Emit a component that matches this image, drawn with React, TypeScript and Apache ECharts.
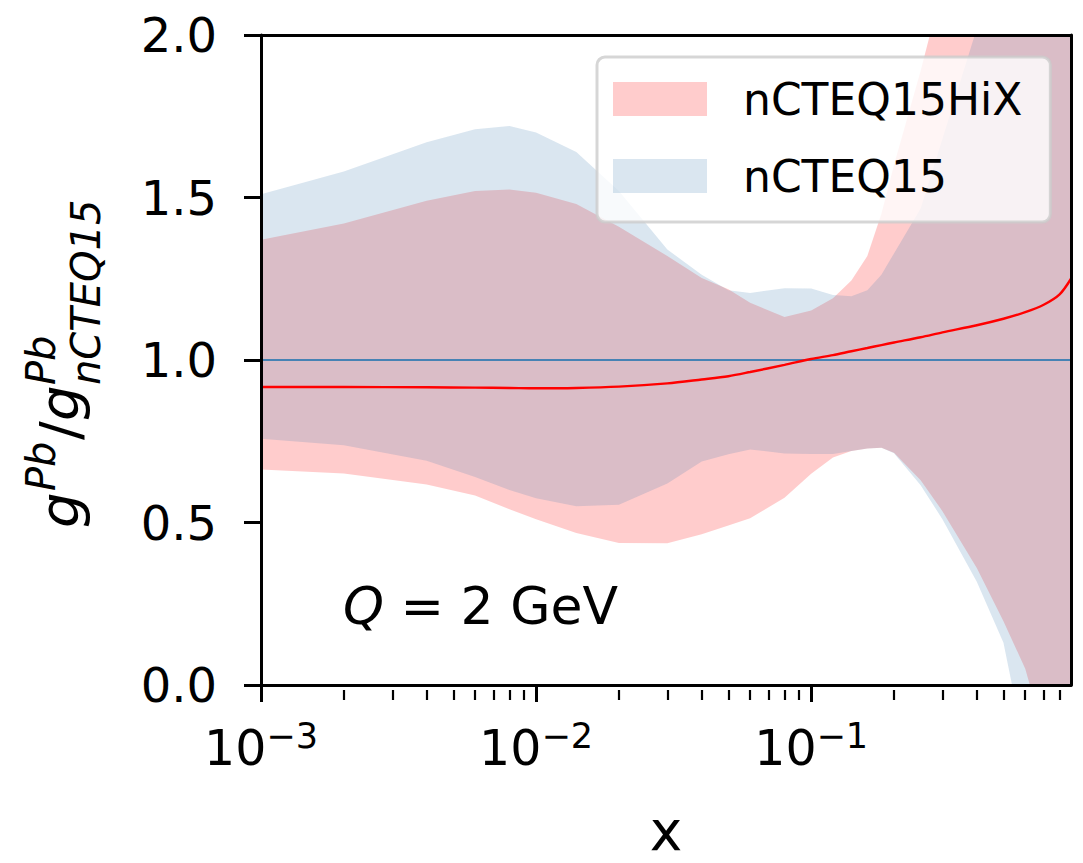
import React, { useEffect, useRef } from "react";
import * as echarts from "echarts";

// ---- data ----
const xValues = [0.001, 0.002, 0.004, 0.006, 0.008, 0.01, 0.014, 0.02, 0.03, 0.04, 0.05, 0.06, 0.08, 0.1, 0.12, 0.14, 0.16, 0.18, 0.2, 0.25, 0.3, 0.4, 0.5, 0.6, 0.7, 0.8, 0.88];

const hixUpper = [1.37, 1.42, 1.49, 1.52, 1.525, 1.515, 1.48, 1.41, 1.32, 1.252, 1.218, 1.176, 1.132, 1.152, 1.19, 1.245, 1.32, 1.45, 1.6, 1.89, 2.15, 2.6, 3.0, 3.3, 3.6, 3.9, 4.1];
const hixLower = [0.663, 0.651, 0.617, 0.583, 0.541, 0.51, 0.468, 0.437, 0.436, 0.464, 0.491, 0.513, 0.576, 0.65, 0.7, 0.72, 0.728, 0.73, 0.715, 0.63, 0.535, 0.36, 0.196, 0.05, -0.15, -0.3, -0.4];
const hixCentral = [0.917, 0.917, 0.916, 0.915, 0.914, 0.913, 0.914, 0.918, 0.928, 0.94, 0.95, 0.963, 0.985, 1.003, 1.015, 1.027, 1.037, 1.046, 1.054, 1.07, 1.085, 1.107, 1.127, 1.147, 1.17, 1.202, 1.25];

const ncteqUpper = [1.51, 1.58, 1.67, 1.71, 1.72, 1.7, 1.64, 1.52, 1.34, 1.262, 1.215, 1.206, 1.221, 1.22, 1.2, 1.196, 1.215, 1.262, 1.328, 1.466, 1.68, 2.02, 2.35, 2.65, 2.9, 3.1, 3.3];
const ncteqLower = [0.758, 0.738, 0.69, 0.64, 0.6, 0.575, 0.55, 0.555, 0.62, 0.688, 0.71, 0.725, 0.712, 0.711, 0.711, 0.72, 0.728, 0.73, 0.713, 0.615, 0.51, 0.318, 0.13, -0.2, -0.45, -0.7, -0.85];
const referenceRatio = 1.0;

const xMin = 0.001;
const xMax = 0.88;
const xMajorTicks = [0.001, 0.01, 0.1];
const xTickExponents = ["−3", "−2", "−1"];
const xMinorTicks = [0.002, 0.003, 0.004, 0.005, 0.006, 0.007, 0.008, 0.009, 0.02, 0.03, 0.04, 0.05, 0.06, 0.07, 0.08, 0.09, 0.2, 0.3, 0.4, 0.5, 0.6, 0.7, 0.8];
const yTickLabels = ["0.0", "0.5", "1.0", "1.5", "2.0"];

const seriesNames = ["nCTEQ15HiX", "nCTEQ15"];

const FONT = "DejaVu Sans";

function pairs(ys: number[]) {
  return xValues.map((x, i) => [x, ys[i]]);
}

function bandSeries(name: string, lower: number[], upper: number[], fill: string, extra: any = {}) {
  return {
    name,
    type: "custom",
    coordinateSystem: "cartesian2d",
    xAxisIndex: 0,
    yAxisIndex: 0,
    clip: true,
    silent: true,
    itemStyle: { color: fill },
    encode: { x: 0, y: 1 },
    data: [[xValues[0], lower[0]]],
    renderItem: (_params: any, api: any) => {
      const top = xValues.map((x, i) => api.coord([x, upper[i]]));
      const bottom = xValues.map((x, i) => api.coord([x, lower[i]])).reverse();
      return {
        type: "polygon",
        shape: { points: top.concat(bottom) },
        style: { fill, stroke: "none" },
        silent: true,
      };
    },
    ...extra,
  };
}

export default function App() {
  const ref = useRef<HTMLDivElement>(null);

  useEffect(() => {
    if (!ref.current) return;
    const chart = echarts.init(ref.current, null, { renderer: "svg" });

    const spine = { color: "#000", width: 3 };
    const pinkFill = "rgba(255,0,0,0.2)";
    const blueFill = "rgba(70,130,180,0.2)";

    const option: any = {
      animation: false,
      textStyle: { fontFamily: FONT },
      grid: [
        { left: 261, right: 12, top: 35, bottom: 173 },
        { left: 261, right: 12, top: 35, bottom: 173 },
      ],
      legend: {
        orient: "vertical",
        left: 597,
        top: 57,
        padding: [20, 28, 24, 16],
        itemWidth: 94,
        itemHeight: 34,
        itemGap: 33,
        backgroundColor: "rgba(255,255,255,0.8)",
        borderColor: "rgba(204,204,204,0.8)",
        borderWidth: 3,
        borderRadius: 8,
        selectedMode: false,
        textStyle: { fontSize: 44, fontFamily: FONT, color: "#000", padding: [0, 0, 0, 31], lineHeight: 34 },
        data: [
          { name: seriesNames[0], icon: "rect", itemStyle: { color: pinkFill, borderWidth: 0 } },
          { name: seriesNames[1], icon: "rect", itemStyle: { color: blueFill, borderWidth: 0 } },
        ],
        z: 8,
      },
      xAxis: [
        {
          type: "log",
          gridIndex: 0,
          position: "bottom",
          min: xMin,
          max: xMax,
          z: 10,
          axisLine: { show: true, onZero: false, lineStyle: spine },
          axisTick: { show: true, customValues: xMajorTicks, length: 17, lineStyle: { color: "#000", width: 3 } },
          axisLabel: {
            show: true,
            customValues: xMajorTicks,
            margin: 33,
            color: "#000",
            formatter: (v: number) => {
              let idx = 0;
              let best = Infinity;
              xMajorTicks.forEach((t, i) => {
                const d = Math.abs(Math.log10(t) - Math.log10(v));
                if (d < best) { best = d; idx = i; }
              });
              return `{b|10}{s|${xTickExponents[idx]}}`;
            },
            rich: {
              b: { fontSize: 49, fontFamily: FONT, color: "#000", lineHeight: 60, verticalAlign: "middle" },
              s: { fontSize: 35, fontFamily: FONT, color: "#000", lineHeight: 34, verticalAlign: "top" },
            },
          },
          splitLine: { show: false },
          minorTick: { show: false },
          name: "x",
          nameLocation: "middle",
          nameGap: 118,
          nameTextStyle: { fontSize: 55, fontFamily: FONT, color: "#000" },
        },
        {
          type: "log",
          gridIndex: 0,
          position: "top",
          min: xMin,
          max: xMax,
          z: 10,
          axisLine: { show: true, onZero: false, lineStyle: spine },
          axisTick: { show: false },
          axisLabel: { show: false },
          splitLine: { show: false },
        },
        {
          type: "log",
          gridIndex: 1,
          position: "bottom",
          min: xMin,
          max: xMax,
          z: 10,
          axisLine: { show: false, onZero: false },
          axisTick: { show: true, customValues: xMinorTicks, length: 10, lineStyle: { color: "#000", width: 2.2 } },
          axisLabel: { show: false },
          splitLine: { show: false },
        },
      ],
      yAxis: [
        {
          type: "value",
          gridIndex: 0,
          position: "left",
          min: 0,
          max: 2,
          interval: 0.5,
          z: 10,
          axisLine: { show: true, onZero: false, lineStyle: spine },
          axisTick: { show: true, length: 17, lineStyle: { color: "#000", width: 3 } },
          axisLabel: {
            fontSize: 48,
            fontFamily: FONT,
            color: "#000",
            margin: 44,
            formatter: (v: number) => yTickLabels[Math.round(v / 0.5)] ?? String(v),
          },
          splitLine: { show: false },
        },
        {
          type: "value",
          gridIndex: 0,
          position: "right",
          min: 0,
          max: 2,
          interval: 0.5,
          z: 10,
          axisLine: { show: true, onZero: false, lineStyle: spine },
          axisTick: { show: false },
          axisLabel: { show: false },
          splitLine: { show: false },
        },
        {
          type: "value",
          gridIndex: 1,
          min: 0,
          max: 2,
          show: false,
        },
      ],
      series: [
        bandSeries(seriesNames[0], hixLower, hixUpper, pinkFill),
        bandSeries(seriesNames[1], ncteqLower, ncteqUpper, blueFill, {
          markLine: {
            silent: true,
            symbol: ["none", "none"],
            label: { show: false },
            lineStyle: { color: "#4682b4", width: 2, type: "solid" },
            data: [{ yAxis: referenceRatio }],
          },
        }),
        {
          name: "nCTEQ15HiX central",
          type: "line",
          data: pairs(hixCentral),
          symbol: "none",
          smooth: 0.3,
          silent: true,
          lineStyle: { color: "#ff0000", width: 2.4 },
          itemStyle: { color: "#ff0000" },
          xAxisIndex: 0,
          yAxisIndex: 0,
          z: 5,
        },
      ],
      graphic: [
        {
          type: "text",
          left: 343,
          top: 580,
          z: 20,
          style: {
            text: "{q|Q} = 2 GeV",
            fontSize: 52,
            fontFamily: FONT,
            fill: "#000",
            rich: {
              q: { fontStyle: "italic", fontSize: 52, fontFamily: FONT, fill: "#000" },
            },
          },
        },
        {
          type: "group",
          x: 79,
          y: 528,
          rotation: Math.PI / 2,
          z: 20,
          children: [
            { type: "text", x: 0, y: -19.4, style: { text: "g", fontSize: 56, fontStyle: "italic", fontFamily: FONT, fill: "#000", align: "left", verticalAlign: "middle" } },
            { type: "text", x: 37, y: -37.8, style: { text: "Pb", fontSize: 40, fontStyle: "italic", fontFamily: FONT, fill: "#000", align: "left", verticalAlign: "middle" } },
            { type: "text", x: 88, y: -19.4, style: { text: "/", fontSize: 56, fontFamily: FONT, fill: "#000", align: "left", verticalAlign: "middle" } },
            { type: "text", x: 107, y: -19.4, style: { text: "g", fontSize: 56, fontStyle: "italic", fontFamily: FONT, fill: "#000", align: "left", verticalAlign: "middle" } },
            { type: "text", x: 143, y: -37.8, style: { text: "Pb", fontSize: 40, fontStyle: "italic", fontFamily: FONT, fill: "#000", align: "left", verticalAlign: "middle" } },
            { type: "text", x: 143, y: 7.2, style: { text: "nCTEQ15", fontSize: 40, fontStyle: "italic", fontFamily: FONT, fill: "#000", align: "left", verticalAlign: "middle" } },
          ],
        },
      ],
    };

    chart.setOption(option);
    return () => chart.dispose();
  }, []);

  return (
    <div
      ref={ref}
      style={{ position: "fixed", left: 0, top: 0, width: 1083, height: 863, background: "#fff" }}
    />
  );
}
